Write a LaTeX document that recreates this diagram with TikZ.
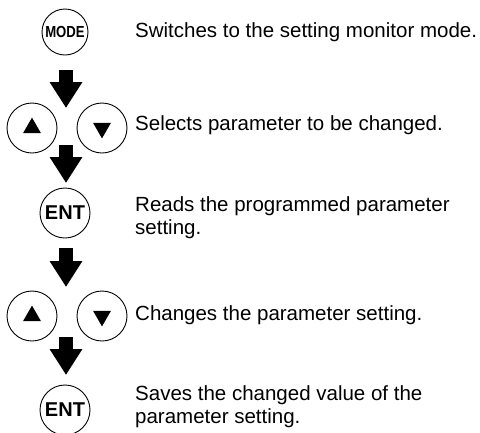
\documentclass[tikz,border=0pt]{standalone}
\usepackage{fontspec}
\usepackage{graphicx}
\setmainfont{Liberation Sans}
\usetikzlibrary{arrows.meta,shapes.geometric}
\begin{document}
\begin{tikzpicture}[x=1pt,y=-1pt,
  btn/.style={circle,draw,line width=0.9pt,inner sep=0pt,minimum size=#1},
  tri/.style={regular polygon,regular polygon sides=3,fill,draw=none,inner sep=0pt,minimum size=20.8pt},
  tridown/.style={tri,shape border rotate=180},
  flow/.style={line width=14pt,-{Triangle[width=31pt,length=26pt]}},
  txt/.style={anchor=west,align=left,font=\fontsize{20.5}{23}\selectfont,inner sep=0pt},
  modefont/.style={font=\bfseries\fontsize{16}{16}\selectfont},
  entfont/.style={font=\bfseries\fontsize{20}{20}\selectfont}
]
\useasboundingbox (0,0) rectangle (480,432);

% buttons
\node[btn=46pt,modefont] (mode) at (65,32) {\scalebox{0.82}[1]{MODE}};
\node[btn=50pt] (up1) at (32,128) {};
\node[btn=50pt] (dn1) at (102,128) {};
\node[tri] (upt1) at (up1.center) {};
\node[tridown] (dnt1) at (dn1.center) {};
\node[btn=50pt,entfont] (ent1) at (65,213) {ENT};
\node[btn=50pt] (up2) at (32,316) {};
\node[btn=50pt] (dn2) at (102,316) {};
\node[tri] (upt2) at (up2.center) {};
\node[tridown] (dnt2) at (dn2.center) {};
\node[btn=50pt,entfont] (ent2) at (65,410) {ENT};

% flow arrows
\coordinate (a1s) at (66,70);  \coordinate (a1e) at (66,108);
\coordinate (a2s) at (66,145); \coordinate (a2e) at (66,183);
\coordinate (a3s) at (66,248); \coordinate (a3e) at (66,287);
\coordinate (a4s) at (66,337); \coordinate (a4e) at (66,375);
\draw[flow] (a1s) -- (a1e);
\draw[flow] (a2s) -- (a2e);
\draw[flow] (a3s) -- (a3e);
\draw[flow] (a4s) -- (a4e);

% descriptions
\node[txt] (t1) at (135,32) {Switches to the setting monitor mode.};
\node[txt] (t2) at (135,125) {Selects parameter to be changed.};
\node[txt] (t3) at (135,218) {Reads the programmed parameter\\setting.};
\node[txt] (t4) at (135,315) {Changes the parameter setting.};
\node[txt] (t5) at (135,407) {Saves the changed value of the\\parameter setting.};
\end{tikzpicture}
\end{document}
